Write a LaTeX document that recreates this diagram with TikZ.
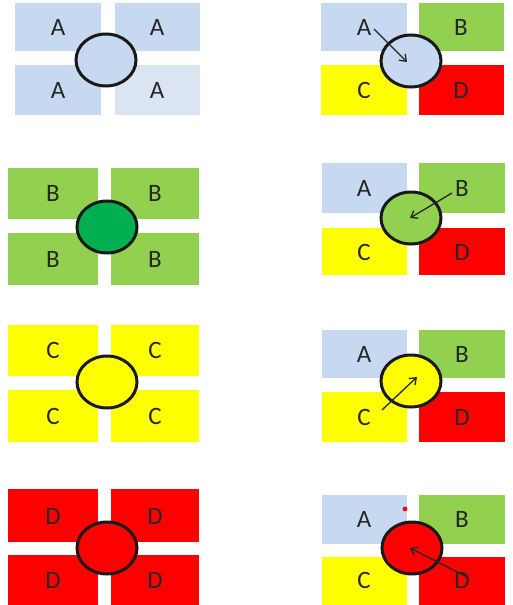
\documentclass[tikz,border=0pt]{standalone}
\usepackage{fontspec}
\setmainfont{Carlito}
\usetikzlibrary{arrows.meta,shapes.geometric}
\definecolor{blueA}{HTML}{C6D9F0}
\definecolor{paleA}{HTML}{DBE5F1}
\definecolor{greenB}{HTML}{92D050}
\definecolor{darkB}{HTML}{00B050}
\definecolor{yellowC}{HTML}{FFFF00}
\definecolor{redD}{HTML}{FF0000}
\tikzset{
  lbl/.style={font=\fontsize{25}{27}\selectfont, text=black!85},
  blob/.style={ellipse, draw=black!90, line width=3pt, minimum width=60pt, minimum height=52pt, inner sep=0pt},
  arr/.style={-{Straight Barb[length=6pt,width=9pt]}, line width=1.3pt, black!85}
}

\begin{document}
\begin{tikzpicture}[x=1pt,y=-1pt]
\useasboundingbox (0,0) rectangle (512,605);

% row 1 : A
\fill[blueA] (15,3) rectangle (101,51);
\fill[blueA] (115,3) rectangle (200,51);
\fill[blueA] (15,65) rectangle (101,115);
\fill[paleA] (115,65) rectangle (200,115);
\node[lbl] (l1a) at (58,27) {A};
\node[lbl] (l1b) at (157,27) {A};
\node[lbl] (l1c) at (58,90) {A};
\node[lbl] (l1d) at (157,90) {A};
\node[blob,fill=blueA] (l1e) at (106,60) {};

\fill[blueA] (321,3) rectangle (407,51);
\fill[greenB] (419,3) rectangle (504,51);
\fill[yellowC] (321,65) rectangle (407,115);
\fill[redD] (419,65) rectangle (504,115);
\node[lbl] (r1a) at (364,27) {A};
\node[lbl] (r1b) at (461,27) {B};
\node[lbl] (r1c) at (364,90) {C};
\node[lbl] (r1d) at (461,90) {D};
\node[blob,fill=blueA] (r1e) at (411,61) {};
\coordinate (r1s) at (374,29);
\coordinate (r1t) at (407,62);
\draw[arr] (r1s) -- (r1t);

% row 2 : B
\fill[greenB] (8,168) rectangle (98,219);
\fill[greenB] (111,168) rectangle (199,219);
\fill[greenB] (8,233) rectangle (98,285);
\fill[greenB] (111,233) rectangle (199,285);
\node[lbl] (l2a) at (53,193) {B};
\node[lbl] (l2b) at (155,193) {B};
\node[lbl] (l2c) at (53,259) {B};
\node[lbl] (l2d) at (155,259) {B};
\node[blob,fill=darkB] (l2e) at (107,227) {};

\fill[blueA] (322,163) rectangle (407,213);
\fill[greenB] (419,163) rectangle (505,213);
\fill[yellowC] (322,228) rectangle (407,275);
\fill[redD] (419,228) rectangle (505,275);
\node[lbl] (r2a) at (364,188) {A};
\node[lbl] (r2b) at (462,188) {B};
\node[lbl] (r2c) at (364,252) {C};
\node[lbl] (r2d) at (462,252) {D};
\node[blob,fill=greenB] (r2e) at (411,218) {};
\coordinate (r2s) at (452,193);
\coordinate (r2t) at (410,218);
\draw[arr] (r2s) -- (r2t);

% row 3 : C
\fill[yellowC] (8,325) rectangle (98,376);
\fill[yellowC] (111,325) rectangle (199,376);
\fill[yellowC] (8,390) rectangle (98,442);
\fill[yellowC] (111,390) rectangle (199,442);
\node[lbl] (l3a) at (53,350) {C};
\node[lbl] (l3b) at (155,350) {C};
\node[lbl] (l3c) at (53,416) {C};
\node[lbl] (l3d) at (155,416) {C};
\node[blob,fill=yellowC] (l3e) at (107,382) {};

\fill[blueA] (322,330) rectangle (407,378);
\fill[greenB] (419,330) rectangle (505,378);
\fill[yellowC] (322,392) rectangle (407,442);
\fill[redD] (419,392) rectangle (505,442);
\node[lbl] (r3a) at (364,354) {A};
\node[lbl] (r3b) at (462,354) {B};
\node[lbl] (r3c) at (364,417) {C};
\node[lbl] (r3d) at (462,417) {D};
\node[blob,fill=yellowC] (r3e) at (411,381) {};
\coordinate (r3s) at (382,410);
\coordinate (r3t) at (417,377);
\draw[arr] (r3s) -- (r3t);

% row 4 : D
\fill[redD] (8,489) rectangle (98,542);
\fill[redD] (111,489) rectangle (199,542);
\fill[redD] (8,555) rectangle (98,605);
\fill[redD] (111,555) rectangle (199,605);
\node[lbl] (l4a) at (53,516) {D};
\node[lbl] (l4b) at (155,516) {D};
\node[lbl] (l4c) at (53,580) {D};
\node[lbl] (l4d) at (155,580) {D};
\node[blob,fill=redD] (l4e) at (107,548) {};

\fill[blueA] (322,495) rectangle (407,544);
\fill[greenB] (419,495) rectangle (505,544);
\fill[yellowC] (322,557) rectangle (407,605);
\fill[redD] (419,557) rectangle (505,605);
\fill[redD] (405,509) circle (2.4);
\node[lbl] (r4a) at (364,519) {A};
\node[lbl] (r4b) at (462,519) {B};
\node[lbl] (r4c) at (364,580) {C};
\node[lbl] (r4d) at (462,580) {D};
\node[blob,fill=redD] (r4e) at (412,548) {};
\coordinate (r4s) at (467,577);
\coordinate (r4t) at (410,548);
\draw[arr] (r4s) -- (r4t);

\end{tikzpicture}
\end{document}
